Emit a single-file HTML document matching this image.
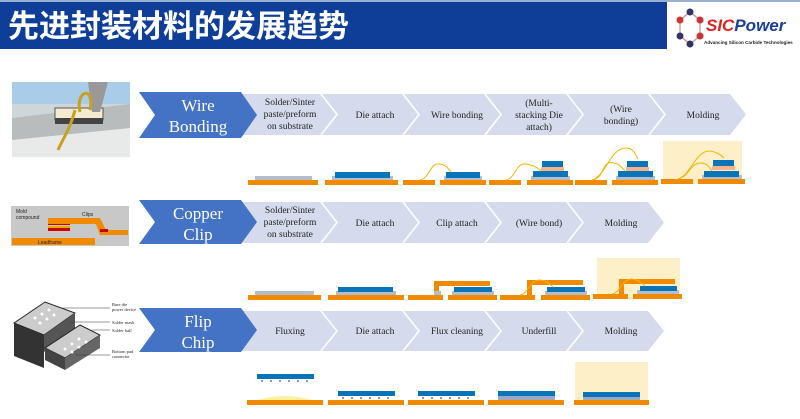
<!DOCTYPE html>
<html><head><meta charset="utf-8"><style>
body{margin:0;background:#fff;width:800px;height:419px;overflow:hidden}
svg{display:block}
.ct{font-family:"Liberation Serif",serif;font-size:9.5px;fill:#222;text-anchor:middle}
.bt{font-family:"Liberation Serif",serif;font-size:17px;fill:#fff;text-anchor:middle}
</style></head><body>
<svg width="800" height="419" viewBox="0 0 800 419" xmlns="http://www.w3.org/2000/svg">
<defs>
<g id="sub1"><rect x="0" y="0" width="70" height="5" fill="#f08a00"/></g>
</defs>
<!-- header -->
<rect x="0" y="0" width="800" height="2" fill="#9bb0d0"/>
<rect x="0" y="2" width="667" height="47" fill="#0f3e99"/>
<text x="8" y="37" font-family="'Noto Sans CJK SC',sans-serif" font-weight="bold" font-size="31" fill="#fff">先进封装材料的发展趋势</text>
<!-- logo -->
<g>
<polygon points="680,20 690,12 700,20 700,36 690,44 680,36" fill="none" stroke="#d9a0a0" stroke-width="1.5"/>
<circle cx="680" cy="20" r="3.5" fill="#c33"/><circle cx="690" cy="12" r="3.5" fill="#336"/>
<circle cx="700" cy="20" r="3.5" fill="#c33"/><circle cx="700" cy="36" r="3.5" fill="#c33"/>
<circle cx="690" cy="44" r="3.5" fill="#336"/><circle cx="680" cy="36" r="3.5" fill="#336"/>
<text x="706" y="31" font-family="'Liberation Sans',sans-serif" font-weight="bold" font-style="italic" font-size="17"><tspan fill="#d22">SIC</tspan><tspan fill="#1a3f99">Power</tspan></text>
<text x="704" y="44" font-family="'Liberation Sans',sans-serif" font-weight="bold" font-size="4.6" fill="#222">Advancing Silicon Carbide Technologies</text>
</g>

<!-- Row 1 chevrons -->
<g fill="#d5dbec">
<polygon points="240,94 320,94 336,114.5 320,135 240,135 256,114.5"/>
<polygon points="322,94 402,94 418,114.5 402,135 322,135 338,114.5"/>
<polygon points="404,94 484,94 500,114.5 484,135 404,135 420,114.5"/>
<polygon points="486,94 566,94 582,114.5 566,135 486,135 502,114.5"/>
<polygon points="568,94 648,94 664,114.5 648,135 568,135 584,114.5"/>
<polygon points="650,94 730,94 746,114.5 730,135 650,135 666,114.5"/>
</g>
<polygon points="139,92 241,92 257,115 241,138 139,138 155,115" fill="#4472c4"/>
<text class="bt" x="198" y="111">Wire</text><text class="bt" x="198" y="132">Bonding</text>
<text class="ct" x="290" y="105">Solder/Sinter</text><text class="ct" x="290" y="117">paste/preform</text><text class="ct" x="290" y="129">on substrate</text>
<text class="ct" x="375" y="118">Die attach</text>
<text class="ct" x="457" y="118">Wire bonding</text>
<text class="ct" x="539" y="106">(Multi-</text><text class="ct" x="539" y="118">stacking Die</text><text class="ct" x="539" y="130">attach)</text>
<text class="ct" x="621" y="112">(Wire</text><text class="ct" x="621" y="124">bonding)</text>
<text class="ct" x="703" y="118">Molding</text>

<!-- Row 2 chevrons -->
<g fill="#d5dbec">
<polygon points="240,202 320,202 336,222.5 320,243 240,243 256,222.5"/>
<polygon points="322,202 402,202 418,222.5 402,243 322,243 338,222.5"/>
<polygon points="404,202 484,202 500,222.5 484,243 404,243 420,222.5"/>
<polygon points="486,202 566,202 582,222.5 566,243 486,243 502,222.5"/>
<polygon points="568,202 648,202 664,222.5 648,243 568,243 584,222.5"/>
</g>
<polygon points="139,200 241,200 257,222 241,244 139,244 155,222" fill="#4472c4"/>
<text class="bt" x="198" y="219">Copper</text><text class="bt" x="198" y="240">Clip</text>
<text class="ct" x="290" y="213">Solder/Sinter</text><text class="ct" x="290" y="225">paste/preform</text><text class="ct" x="290" y="237">on substrate</text>
<text class="ct" x="375" y="226">Die attach</text>
<text class="ct" x="457" y="226">Clip attach</text>
<text class="ct" x="539" y="226">(Wire bond)</text>
<text class="ct" x="621" y="226">Molding</text>

<!-- Row 3 chevrons -->
<g fill="#d5dbec">
<polygon points="240,311 320,311 336,331 320,351 240,351 256,331"/>
<polygon points="322,311 402,311 418,331 402,351 322,351 338,331"/>
<polygon points="404,311 484,311 500,331 484,351 404,351 420,331"/>
<polygon points="486,311 566,311 582,331 566,351 486,351 502,331"/>
<polygon points="568,311 648,311 664,331 648,351 568,351 584,331"/>
</g>
<polygon points="139,308 241,308 257,330 241,352 139,352 155,330" fill="#4472c4"/>
<text class="bt" x="198" y="327">Flip</text><text class="bt" x="198" y="348">Chip</text>
<text class="ct" x="290" y="334">Fluxing</text>
<text class="ct" x="375" y="334">Die attach</text>
<text class="ct" x="457" y="334">Flux cleaning</text>
<text class="ct" x="539" y="334">Underfill</text>
<text class="ct" x="621" y="334">Molding</text>

<!-- Row 1 diagrams -->
<rect x="663" y="141" width="79" height="43" fill="#fdf0c8"/>
<g fill="#f08a00">
<rect x="248" y="180" width="70" height="5"/><rect x="325" y="180" width="73" height="5"/>
<rect x="403" y="180" width="32" height="5"/><rect x="440" y="180" width="46" height="5"/>
<rect x="489" y="180" width="32" height="5"/><rect x="527" y="180" width="46" height="5"/>
<rect x="575" y="180" width="32" height="5"/><rect x="612" y="180" width="46" height="5"/>
<rect x="661" y="179" width="32" height="5"/><rect x="698" y="179" width="47" height="5"/>
</g>
<g fill="#b5bccb">
<rect x="255" y="176" width="57" height="4"/><rect x="332" y="176" width="61" height="4"/>
<rect x="444" y="176" width="38" height="4"/><rect x="531" y="176" width="39" height="4"/>
<rect x="616" y="176" width="39" height="4"/><rect x="702" y="175" width="40" height="4"/>
</g>
<g fill="#0a74b8">
<rect x="335" y="172" width="55" height="6"/><rect x="446" y="172" width="34" height="6"/>
<rect x="533" y="171" width="35" height="6"/><rect x="542" y="161" width="21" height="6"/>
<rect x="618" y="171" width="35" height="6"/><rect x="627" y="161" width="21" height="6"/>
<rect x="704" y="171" width="35" height="6"/><rect x="713" y="160" width="21" height="6"/>
</g>
<g fill="#f4b38a">
<rect x="541" y="167" width="23" height="4"/><rect x="626" y="167" width="23" height="4"/><rect x="712" y="166" width="23" height="4"/>
</g>
<g fill="none" stroke="#f5b400" stroke-width="1">
<path d="M420,180 C430,178 430,162 440,164 C446,165 448,168 451,172"/>
<path d="M506,180 C516,178 516,162 526,164 C534,165 538,168 541,171"/>
<path d="M592,180 C606,178 600,160 614,163 C620,164 622,168 625,171"/>
<path d="M592,180 C606,176 610,148 626,148 C634,148 636,156 638,159"/>
<path d="M678,179 C690,176 690,162 702,163 C708,164 710,168 712,171"/>
<path d="M678,179 C690,176 696,150 710,151 C718,152 722,156 724,158"/>
</g>

<!-- Row 2 diagrams -->
<rect x="597" y="258" width="83" height="41" fill="#fdf0c8"/>
<g fill="#f08a00">
<rect x="248" y="295" width="73" height="5"/><rect x="328" y="295" width="76" height="5"/>
<rect x="408" y="295" width="35" height="5"/><rect x="448" y="295" width="49" height="5"/>
<rect x="500" y="295" width="35" height="5"/><rect x="541" y="295" width="49" height="5"/>
<rect x="593" y="294" width="35" height="5"/><rect x="633" y="294" width="49" height="5"/>
<rect x="434" y="281" width="56" height="5"/><rect x="434" y="281" width="5" height="14"/>
<rect x="527" y="280" width="56" height="5"/><rect x="527" y="280" width="5" height="15"/>
<rect x="619" y="279" width="56" height="5"/><rect x="619" y="279" width="5" height="15"/>
</g>
<g fill="#b5bccb">
<rect x="255" y="291" width="59" height="4"/><rect x="336" y="291" width="60" height="4"/>
<rect x="452" y="291" width="42" height="4"/><rect x="545" y="291" width="42" height="4"/><rect x="637" y="290" width="42" height="4"/>
<rect x="434" y="291" width="7" height="4"/>
</g>
<g fill="#0a74b8">
<rect x="338" y="287" width="55" height="5"/><rect x="454" y="287" width="38" height="5"/>
<rect x="547" y="287" width="38" height="5"/><rect x="640" y="286" width="37" height="5"/>
</g>
<g fill="none" stroke="#f5b400" stroke-width="1">
<path d="M520,295 C528,294 530,280 540,280 C548,281 550,285 553,287"/>
<path d="M612,294 C620,293 622,279 632,279 C640,280 642,284 645,286"/>
</g>

<!-- Row 3 diagrams -->
<rect x="575" y="362" width="73" height="41" fill="#fdf0c8"/>
<g fill="#f08a00">
<rect x="247" y="400" width="76" height="5"/><rect x="328" y="400" width="76" height="5"/>
<rect x="408" y="400" width="76" height="5"/><rect x="488" y="400" width="76" height="5"/><rect x="574" y="400" width="75" height="5"/>
</g>
<path d="M258,400 Q285,392 312,400 Z" fill="#fdf0a0"/>
<g fill="#0a74b8">
<rect x="257" y="374" width="57" height="5"/><rect x="338" y="391" width="57" height="5"/>
<rect x="418" y="391" width="57" height="5"/><rect x="498" y="391" width="57" height="5"/><rect x="583" y="392" width="57" height="5"/>
</g>
<g fill="#9aa8c8">
<rect x="498" y="396" width="57" height="4"/><rect x="583" y="397" width="57" height="3"/>
</g>
<g stroke="#8899bb" stroke-width="2" stroke-dasharray="2,7">
<line x1="261" y1="381" x2="314" y2="381"/><line x1="342" y1="398" x2="395" y2="398"/><line x1="422" y1="398" x2="475" y2="398"/>
</g>

<!-- Left images -->
<g>
<rect x="12" y="82" width="118" height="75" fill="#cfd6da"/>
<rect x="12" y="82" width="118" height="22" fill="#a9cce8"/>
<polygon points="12,118 130,104 130,157 12,157" fill="#b8bcbc"/>
<polygon points="12,140 130,128 130,157 12,157" fill="#e8eaea"/>
<rect x="55" y="108" width="48" height="12" fill="#f4ecd0" stroke="#555"/>
<rect x="55" y="118" width="48" height="6" fill="#444"/>
<polygon points="88,82 108,82 100,112 92,112" fill="#999"/>
<path d="M80,112 C75,90 95,85 90,110" fill="none" stroke="#c8a020" stroke-width="3"/>
<path d="M75,110 C70,130 62,140 58,150" fill="none" stroke="#c8a020" stroke-width="3"/>
</g>
<g>
<rect x="11" y="206" width="118" height="40" fill="#c8c8c8"/>
<rect x="12" y="238" width="83" height="7" fill="#f08a00"/>
<rect x="48" y="222" width="22" height="3" fill="#c00"/><rect x="48" y="228" width="22" height="3" fill="#c00"/>
<rect x="48" y="226" width="22" height="2" fill="#e0b000"/>
<polygon points="48,218 100,218 106,230 128,230 128,235 100,235 96,224 48,224" fill="#f08a00"/>
<rect x="100" y="229" width="8" height="3" fill="#c00"/>
<text x="16" y="213" font-family="'Liberation Sans',sans-serif" font-size="5" fill="#222">Mold</text>
<text x="16" y="219" font-family="'Liberation Sans',sans-serif" font-size="5" fill="#222">compound</text>
<text x="82" y="216" font-family="'Liberation Sans',sans-serif" font-size="5" fill="#222">Clips</text>
<text x="38" y="244" font-family="'Liberation Sans',sans-serif" font-size="5" fill="#222">Leadframe</text>
</g>
<g>
<polygon points="14,323 45,302 75,313 44,335" fill="#ccc" stroke="#222"/>
<polygon points="14,323 44,335 44,368 14,356" fill="#333"/>
<polygon points="44,335 75,313 75,330 44,352" fill="#555"/>
<polygon points="45,348 80,325 100,335 65,358" fill="#ccc" stroke="#222"/>
<polygon points="45,348 65,358 65,370 45,360" fill="#444"/>
<polygon points="65,358 100,335 100,348 65,370" fill="#666"/>
<g fill="#fff"><circle cx="35" cy="318" r="1.5"/><circle cx="42" cy="314" r="1.5"/><circle cx="49" cy="310" r="1.5"/><circle cx="40" cy="323" r="1.5"/><circle cx="47" cy="319" r="1.5"/><circle cx="54" cy="315" r="1.5"/><circle cx="65" cy="349" r="1.5"/><circle cx="72" cy="344" r="1.5"/><circle cx="79" cy="339" r="1.5"/><circle cx="72" cy="352" r="1.5"/><circle cx="79" cy="347" r="1.5"/><circle cx="86" cy="342" r="1.5"/></g>
<g stroke="#333" stroke-width="0.5"><line x1="62" y1="308" x2="110" y2="308"/><line x1="70" y1="322" x2="110" y2="322"/><line x1="92" y1="330" x2="110" y2="330"/><line x1="75" y1="355" x2="110" y2="355"/></g>
<g font-family="'Liberation Serif',serif" font-size="4.5" fill="#222"><text x="112" y="306">Bare die</text><text x="112" y="311">power device</text><text x="112" y="324">Solder mask</text><text x="112" y="332">Solder ball</text><text x="112" y="353">Bottom pad</text><text x="112" y="358">connector</text></g>
</g>
</svg>
</body></html>
